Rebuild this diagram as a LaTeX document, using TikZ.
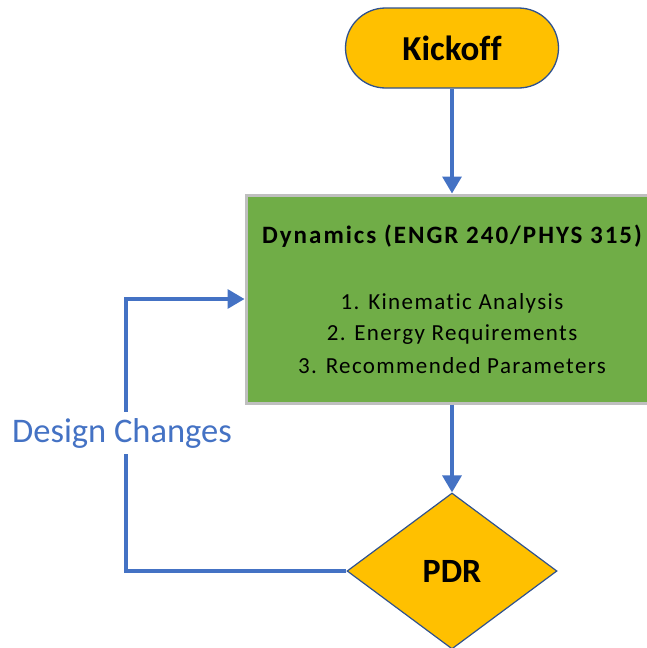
\documentclass[tikz,border=0pt]{standalone}
\usepackage{fontspec}
\setmainfont[Ligatures=NoCommon]{Carlito}
\usetikzlibrary{arrows.meta,shapes.geometric}
\definecolor{flowblue}{HTML}{4472C4}
\definecolor{edgeblue}{HTML}{2F528F}
\definecolor{gold}{HTML}{FFC000}
\definecolor{leaf}{HTML}{70AD47}
\definecolor{frame}{HTML}{BFBFBF}
\newfontfamily\titlefont[LetterSpace=8,Ligatures=NoCommon]{Carlito}
\newfontfamily\listfont[LetterSpace=6,Ligatures=NoCommon]{Carlito}
\tikzset{
  terminal/.style={draw=edgeblue, line width=1.3pt, fill=gold, rounded corners=40pt,
    minimum width=213pt, minimum height=80pt, inner sep=0pt,
    font=\fontsize{35}{40}\selectfont\bfseries},
  process/.style={draw=frame, line width=3pt, fill=leaf, minimum width=412pt,
    minimum height=208pt, inner sep=0pt},
  decision/.style={diamond, draw=edgeblue, line width=1.2pt, fill=gold,
    minimum width=210pt, minimum height=156pt, inner sep=0pt,
    font=\fontsize{34}{40}\selectfont\bfseries},
  flow/.style={draw=flowblue, line width=3.4pt, -{Triangle[length=17pt,width=19pt]}},
  boxtitle/.style={inner sep=0pt, font=\fontsize{25}{30}\titlefont\bfseries},
  boxitem/.style={inner sep=0pt, font=\fontsize{23}{28}\listfont},
  looplabel/.style={fill=white, inner xsep=2pt, inner ysep=6pt, text=flowblue,
    font=\fontsize{34.5}{40}\selectfont}
}
\begin{document}
\begin{tikzpicture}[x=1pt, y=-1pt]
  \useasboundingbox (0,0) rectangle (647,648);
  % boxes
  \node[terminal] (kickoff) at (452,48) {Kickoff};
  \node[process] (dyn) at (452,299) {};
  \node[decision] (pdr) at (452,571) {PDR};
  % text inside the process box
  \node[boxtitle] (title) at (452,236) {Dynamics (ENGR 240/PHYS 315)};
  \node[boxitem] (item1) at (452,303) {1. Kinematic Analysis};
  \node[boxitem] (item2) at (452,335) {2. Energy Requirements};
  \node[boxitem] (item3) at (452,366) {3. Recommended Parameters};
  % connectors
  \draw[flow] (kickoff.south) -- (dyn.north);
  \draw[flow] (dyn.south) -- (pdr.north);
  \coordinate (loopcorner) at (126,571);
  \draw[flow] (pdr.west) -- (loopcorner) |- (dyn.west);
  \node[looplabel] (changes) at (122,433) {Design Changes};
\end{tikzpicture}
\end{document}
